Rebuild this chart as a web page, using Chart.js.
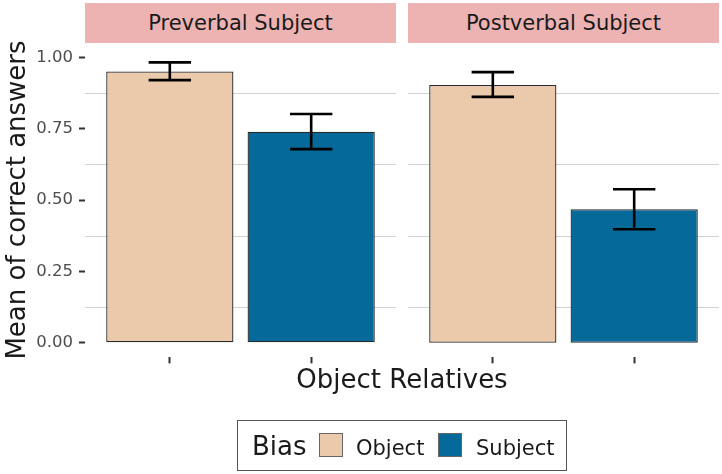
<!DOCTYPE html>
<html>
<head>
<meta charset="utf-8">
<script src="https://cdn.jsdelivr.net/npm/chart.js@4/dist/chart.umd.min.js"></script>
<style>
  html, body { margin: 0; padding: 0; background: #fff; }
  #wrap { position: relative; width: 722px; height: 474px; overflow: hidden; font-family: 'DejaVu Sans', sans-serif; color: #1a1a1a; }
  .abs { position: absolute; }
  .strip { position: absolute; top: 3px; height: 40px; line-height: 40px; background: #EDB3B3; text-align: center; font-size: 21px; color: #1a1a1a; white-space: nowrap; }
  canvas { position: absolute; top: 0; }
  .key { position: absolute; width: 22px; height: 22px; border: 1px solid #666; top: 433px; }
  .ltxt { position: absolute; font-size: 21px; line-height: 24px; top: 436px; white-space: nowrap; }
</style>
</head>
<body>
<div id="wrap">
  <div class="strip" id="s1" style="left:85px;width:311px;"></div>
  <div class="strip" id="s2" style="left:408px;width:311px;"></div>
  <canvas id="c1" width="396" height="474" style="left:0;width:396px;height:474px;"></canvas>
  <canvas id="c2" width="311" height="474" style="left:408px;width:311px;height:474px;"></canvas>
  <div class="abs" id="ytitle" style="left:-184px;top:185px;width:400px;height:30px;line-height:30px;font-size:26px;text-align:center;transform:rotate(-90deg);white-space:nowrap;"></div>
  <div class="abs" id="xtitle" style="left:85px;top:364px;width:634px;height:30px;line-height:30px;font-size:26px;text-align:center;white-space:nowrap;"></div>
  <div class="abs" style="left:237px;top:420px;width:328px;height:49px;border:1px solid #555;"></div>
  <div class="abs" id="legTitle" style="left:252px;top:431px;font-size:26px;line-height:30px;white-space:nowrap;"></div>
  <div class="key" id="k1" style="left:319px;"></div>
  <div class="ltxt" id="l1" style="left:356px;"></div>
  <div class="key" id="k2" style="left:438px;"></div>
  <div class="ltxt" id="l2" style="left:476px;"></div>
</div>
<script>
// ---- data ----
const panels = ['Preverbal Subject', 'Postverbal Subject'];
const categories = ['Object', 'Subject'];
const preverbalMean = [0.951, 0.740];
const preverbalLow  = [0.921, 0.679];
const preverbalHigh = [0.983, 0.802];
const postverbalMean = [0.904, 0.468];
const postverbalLow  = [0.862, 0.398];
const postverbalHigh = [0.949, 0.538];
const yTickValues = [0, 0.25, 0.5, 0.75, 1.0];
const yMinorGrid = [0.125, 0.375, 0.625, 0.875];
const legendTitle = 'Bias';
const xTitle = 'Object Relatives';
const yTitle = 'Mean of correct answers';

const colors = ['#EBCAAC', '#056A9A'];

document.getElementById('s1').textContent = panels[0];
document.getElementById('s2').textContent = panels[1];
document.getElementById('xtitle').textContent = xTitle;
document.getElementById('ytitle').textContent = yTitle;
document.getElementById('legTitle').textContent = legendTitle;
document.getElementById('l1').textContent = categories[0];
document.getElementById('l2').textContent = categories[1];
document.getElementById('k1').style.background = colors[0];
document.getElementById('k2').style.background = colors[1];

const minorGrid = {
  id: 'minorGrid',
  beforeDatasetsDraw(chart) {
    const { ctx, chartArea, scales: { y } } = chart;
    ctx.save();
    ctx.strokeStyle = '#d2d2d2';
    ctx.lineWidth = 1.1;
    yMinorGrid.forEach(v => {
      const py = Math.round(y.getPixelForValue(v)) + 0.5;
      ctx.beginPath();
      ctx.moveTo(chartArea.left, py);
      ctx.lineTo(chartArea.right, py);
      ctx.stroke();
    });
    ctx.restore();
  }
};

const errorBars = {
  id: 'errorBars',
  afterDatasetsDraw(chart, args, opts) {
    const { ctx, scales: { x, y } } = chart;
    ctx.save();
    ctx.strokeStyle = '#000';
    ctx.lineWidth = 2.6;
    opts.lo.forEach((lo, i) => {
      const hi = opts.hi[i];
      const xv = i + 1;
      const xc = x.getPixelForValue(xv);
      const xl = x.getPixelForValue(xv - 0.15);
      const xr = x.getPixelForValue(xv + 0.15);
      const yl = y.getPixelForValue(lo);
      const yh = y.getPixelForValue(hi);
      ctx.beginPath();
      ctx.moveTo(xl, yh); ctx.lineTo(xr, yh);
      ctx.moveTo(xc, yh); ctx.lineTo(xc, yl);
      ctx.moveTo(xl, yl); ctx.lineTo(xr, yl);
      ctx.stroke();
    });
    ctx.restore();
  }
};

function makeChart(id, means, lo, hi, showY) {
  return new Chart(document.getElementById(id), {
    type: 'bar',
    data: {
      datasets: [{
        data: means.map((v, i) => ({ x: i + 1, y: v })),
        backgroundColor: colors,
        borderColor: '#2a2a2a',
        borderWidth: 1.3,
        borderSkipped: false,
        categoryPercentage: 1,
        barPercentage: 0.9
      }]
    },
    options: {
      responsive: false,
      animation: false,
      devicePixelRatio: 1,
      layout: { padding: { top: 47.7, bottom: 110.6, left: 0, right: 0 } },
      plugins: {
        legend: { display: false },
        tooltip: { enabled: false },
        errorBars: { lo: lo, hi: hi }
      },
      scales: {
        x: {
          type: 'linear',
          min: 0.4,
          max: 2.6,
          offset: false,
          afterBuildTicks: s => { s.ticks = categories.map((c, i) => ({ value: i + 1 })); },
          ticks: { display: false },
          grid: { display: true, drawOnChartArea: false, drawTicks: true, tickLength: 6, tickColor: '#333333', tickWidth: 2, offset: false },
          border: { display: false }
        },
        y: {
          type: 'linear',
          display: showY,
          min: -0.0516,
          max: 1.0346,
          afterBuildTicks: s => { s.ticks = yTickValues.map(v => ({ value: v })); },
          afterFit: s => { if (showY) { s.width = 85; } s.paddingTop = 0; s.paddingBottom = 0; },
          ticks: {
            padding: 6,
            color: '#4D4D4D',
            font: { family: 'DejaVu Sans', size: 16.5 },
            callback: v => Number(v).toFixed(2)
          },
          grid: { display: true, drawOnChartArea: false, drawTicks: true, tickLength: 6, tickColor: '#333333', tickWidth: 2 },
          border: { display: false }
        }
      }
    },
    plugins: [minorGrid, errorBars]
  });
}

makeChart('c1', preverbalMean, preverbalLow, preverbalHigh, true);
makeChart('c2', postverbalMean, postverbalLow, postverbalHigh, false);
</script>
</body>
</html>
